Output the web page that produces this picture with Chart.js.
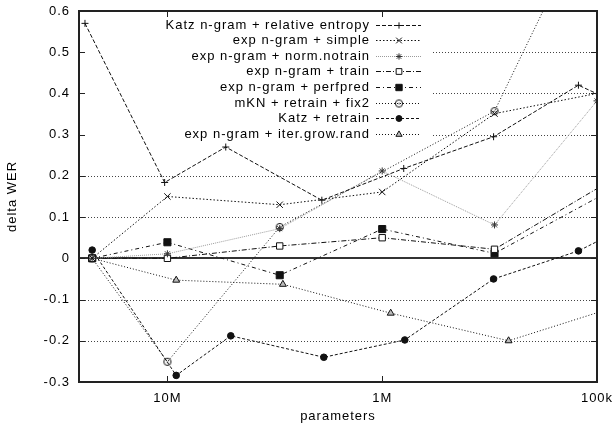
<!DOCTYPE html>
<html><head><meta charset="utf-8">
<script src="https://cdn.jsdelivr.net/npm/chart.js@4.4.0/dist/chart.umd.min.js"></script>
<style>html,body{margin:0;padding:0;background:#fff;}#wrap{width:615px;height:435px;}</style>
</head><body><div id="wrap"><canvas id="c" width="615" height="435"></canvas></div>
<script>
// ---------- data ----------
const seriesNames = [
  'Katz n-gram + relative entropy',
  'exp n-gram + simple',
  'exp n-gram + norm.notrain',
  'exp n-gram + train',
  'exp n-gram + perfpred',
  'mKN + retrain + fix2',
  'Katz + retrain',
  'exp n-gram + iter.grow.rand'
];
const katzRelX = [24.2e6, 10.3e6, 5.35e6, 1.91e6, 794e3, 303e3, 122e3, 80e3];
const katzRelY = [0.57, 0.184, 0.27, 0.141, 0.218, 0.295, 0.42, 0.376];
const expX     = [22.4e6, 10e6, 3e6, 1e6, 300e3, 80e3];
const simpleY  = [0, 0.15, 0.13, 0.161, 0.351, 0.41];
const normX    = [22.4e6, 10e6, 3e6, 1e6, 300e3, 100e3];
const normY    = [0, 0.011, 0.072, 0.212, 0.081, 0.382];
const trainY   = [0, 0, 0.03, 0.05, 0.022, 0.199];
const perfY    = [0, 0.039, -0.041, 0.071, 0.012, 0.174];
const mknX     = [22.4e6, 10e6, 3e6, 300e3, 100e3];
const mknY     = [0, -0.251, 0.076, 0.357, 0.87];
const katzRetX = [22.4e6, 9.1e6, 5.07e6, 1.87e6, 785e3, 303e3, 122e3, 80e3];
const katzRetY = [0.02, -0.284, -0.188, -0.24, -0.198, -0.05, 0.018, 0.066];
const iterX    = [22.4e6, 9.1e6, 2.9e6, 913e3, 258e3, 80e3];
const iterY    = [0, -0.053, -0.063, -0.133, -0.2, -0.116];

const xTickValues = [1e7, 1e6, 1e5];
const xTickLabels = ['10M', '1M', '100k'];
const yTickValues = [-0.3, -0.2, -0.1, 0, 0.1, 0.2, 0.3, 0.4, 0.5, 0.6];
const yTickLabels = ['-0.3', '-0.2', '-0.1', '0', '0.1', '0.2', '0.3', '0.4', '0.5', '0.6'];
const xMin = 1e5, xMax = 25.8e6, yMin = -0.3, yMax = 0.6;

// ---------- helpers ----------
const zip = (xs, ys) => xs.map((x, i) => ({x: x, y: ys[i]}));
const FONT = '"Liberation Sans", Arial, Helvetica, sans-serif';
const LS = '1px';
Chart.defaults.font.family = FONT;
Chart.defaults.font.size = 13;
Chart.defaults.color = '#000';

function circleDot() {
  const c = document.createElement('canvas');
  c.width = 10; c.height = 10;
  const g = c.getContext('2d');
  g.strokeStyle = '#111'; g.lineWidth = 1;
  g.beginPath(); g.arc(5, 5, 3.6, 0, Math.PI * 2); g.stroke();
  g.fillStyle = '#111'; g.fillRect(4.5, 4.5, 1.2, 1.2);
  return c;
}
const circDot = circleDot();

function ds(label, data, style) {
  return Object.assign({
    label: label, data: data, showLine: true, tension: 0,
    borderColor: '#111', borderWidth: 1, fill: false,
    pointBorderColor: '#111', pointBackgroundColor: '#111', pointBorderWidth: 1
  }, style);
}

const datasets = [
  ds(seriesNames[0], zip(katzRelX, katzRelY), {borderDash: [4, 2], pointStyle: 'cross', pointRadius: 3.5}),
  ds(seriesNames[1], zip(expX, simpleY), {borderDash: [1.5, 2], pointStyle: 'crossRot', pointRadius: 4.5}),
  ds(seriesNames[2], zip(normX, normY), {borderColor: '#9a9a9a', borderDash: [1, 1], pointStyle: 'star', pointRadius: 3.5, pointBorderColor: '#333'}),
  ds(seriesNames[3], zip(expX, trainY), {borderDash: [5, 2, 1, 2], pointStyle: 'rect', pointRadius: 4.5, pointBackgroundColor: '#fff'}),
  ds(seriesNames[4], zip(expX, perfY), {borderDash: [4, 3, 1, 3], pointStyle: 'rect', pointRadius: 5}),
  ds(seriesNames[5], zip(mknX, mknY), {borderDash: [1, 2], pointStyle: circDot, pointRadius: 4}),
  ds(seriesNames[6], zip(katzRetX, katzRetY), {borderDash: [3, 2], pointStyle: 'circle', pointRadius: 3.3}),
  ds(seriesNames[7], zip(iterX, iterY), {borderDash: [1, 2], pointStyle: 'triangle', pointRadius: 4, pointBackgroundColor: '#bbb'})
];

// ---------- plot decorations drawn through the chart's scales ----------
const decor = {
  id: 'decor',
  beforeUpdate(chart) { chart.ctx.letterSpacing = LS; },
  beforeDraw(chart) { chart.ctx.letterSpacing = LS; },
  beforeDatasetsDraw(chart) {
    const ctx = chart.ctx, a = chart.chartArea, ys = chart.scales.y;
    ctx.save();
    ctx.strokeStyle = '#444'; ctx.lineWidth = 1; ctx.setLineDash([1, 2]);
    yTickValues.forEach(v => {
      if (v === 0 || v === yMin || v === yMax) return;
      const py = Math.round(ys.getPixelForValue(v)) + 0.5;
      ctx.beginPath(); ctx.moveTo(a.left, py); ctx.lineTo(a.right, py); ctx.stroke();
    });
    // key area (hides grid behind the legend, as in the reference)
    ctx.setLineDash([]);
    ctx.fillStyle = '#fff';
    ctx.fillRect(a.left + 1, a.top + 1, 431 - a.left, 150 - a.top);
    // zero axis
    const p0 = Math.round(ys.getPixelForValue(0));
    ctx.strokeStyle = '#333'; ctx.lineWidth = 2;
    ctx.beginPath(); ctx.moveTo(a.left, p0); ctx.lineTo(a.right, p0); ctx.stroke();
    ctx.restore();
  },
  afterDatasetsDraw(chart) {
    const ctx = chart.ctx, a = chart.chartArea, ys = chart.scales.y, xs = chart.scales.x;
    ctx.save();
    ctx.setLineDash([]);
    ctx.strokeStyle = '#222'; ctx.lineWidth = 1;
    // inward tick marks
    yTickValues.forEach(v => {
      const py = Math.round(ys.getPixelForValue(v)) + 0.5;
      ctx.beginPath();
      ctx.moveTo(a.left, py); ctx.lineTo(a.left + 6, py);
      ctx.moveTo(a.right, py); ctx.lineTo(a.right - 6, py);
      ctx.stroke();
    });
    xTickValues.forEach(v => {
      const px = Math.round(xs.getPixelForValue(v)) + 0.5;
      ctx.beginPath();
      ctx.moveTo(px, a.bottom); ctx.lineTo(px, a.bottom - 6);
      ctx.moveTo(px, a.top); ctx.lineTo(px, a.top + 6);
      ctx.stroke();
    });
    // frame
    ctx.strokeStyle = '#222'; ctx.lineWidth = 2;
    ctx.strokeRect(Math.round(a.left), Math.round(a.top), Math.round(a.right - a.left), Math.round(a.bottom - a.top));
    // key
    ctx.font = '13px ' + FONT;
    ctx.letterSpacing = LS;
    ctx.textAlign = 'right'; ctx.textBaseline = 'middle';
    chart.data.datasets.forEach((d, i) => {
      const y = Math.round(24.5 + i * 15.6) + 0.5;
      ctx.fillStyle = '#000';
      ctx.fillText(d.label, 370, y);
      ctx.strokeStyle = d.borderColor; ctx.lineWidth = 1; ctx.setLineDash(d.borderDash || []);
      ctx.beginPath(); ctx.moveTo(376, y); ctx.lineTo(421, y); ctx.stroke();
      ctx.setLineDash([]);
      ctx.strokeStyle = d.pointBorderColor; ctx.fillStyle = d.pointBackgroundColor;
      ctx.lineWidth = d.pointBorderWidth;
      if (Chart.helpers && Chart.helpers.drawPoint) {
        Chart.helpers.drawPoint(ctx, {pointStyle: d.pointStyle, radius: d.pointRadius * 0.9, borderWidth: 1, rotation: 0}, 399, y);
      }
    });
    ctx.restore();
  }
};

new Chart(document.getElementById('c'), {
  type: 'scatter',
  data: {datasets: datasets},
  options: {
    responsive: false, animation: false, devicePixelRatio: 1,
    layout: {padding: {top: 11, right: 18, left: 0, bottom: 0}},
    plugins: {legend: {display: false}, tooltip: {enabled: false}},
    scales: {
      x: {
        type: 'logarithmic', reverse: true, min: xMin, max: xMax,
        grid: {display: false, drawTicks: false}, border: {display: false},
        afterBuildTicks: s => { s.ticks = xTickValues.map(v => ({value: v})); },
        afterFit: s => { s.height = 53; s.paddingLeft = 0; s.paddingRight = 0; },
        ticks: {padding: 9, autoSkip: false, maxRotation: 0, font: {size: 13},
          callback: v => { const i = xTickValues.indexOf(v); return i >= 0 ? xTickLabels[i] : ''; }},
        title: {display: true, text: 'parameters', font: {size: 13}, padding: {top: 0, bottom: 11}}
      },
      y: {
        type: 'linear', min: yMin, max: yMax,
        grid: {display: false, drawTicks: false}, border: {display: false},
        afterBuildTicks: s => { s.ticks = yTickValues.map(v => ({value: v})); },
        afterFit: s => { s.width = 79; s.paddingTop = 0; s.paddingBottom = 0; },
        ticks: {padding: 9, autoSkip: false, font: {size: 13},
          callback: (v, i) => yTickLabels[i]},
        title: {display: true, text: 'delta WER', font: {size: 13}, padding: {top: 5, bottom: 0}}
      }
    }
  },
  plugins: [decor]
});
</script>
</body></html>
